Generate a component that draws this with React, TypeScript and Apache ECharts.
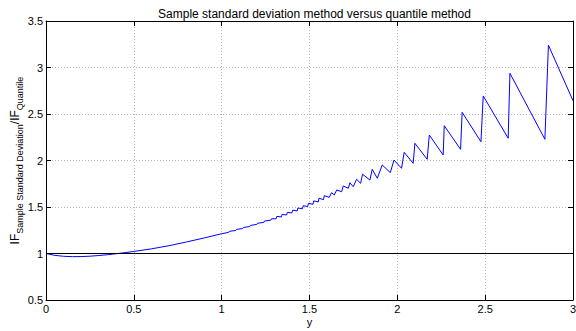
import React, { useEffect, useRef } from "react";
import * as echarts from "echarts";

const titleText = "Sample standard deviation method versus quantile method";
const xAxisName = "y";

const xTicks = { min: 0, max: 3, interval: 0.5 };
const yTicks = { min: 0.5, max: 3.5, interval: 0.5 };

// curve points (x, ratio)
const curveX = [
  0, 0.05, 0.1, 0.15, 0.2, 0.25, 0.3, 0.35, 0.4, 0.45, 0.5, 0.6, 0.7, 0.8, 0.9, 1.0,
  1.04, 1.044, 1.08, 1.084, 1.12, 1.124, 1.16, 1.164, 1.2, 1.204, 1.24, 1.244, 1.28, 1.284,
  1.31, 1.314, 1.34, 1.344, 1.37, 1.374, 1.4, 1.404, 1.43, 1.434, 1.46, 1.464, 1.49, 1.494,
  1.52, 1.524, 1.55, 1.554, 1.58, 1.584,
  1.612, 1.626, 1.641, 1.655, 1.683, 1.692, 1.721, 1.73, 1.749, 1.768, 1.791, 1.802,
  1.844, 1.857, 1.886, 1.914, 1.96, 1.981, 2.024, 2.039, 2.09, 2.1, 2.17, 2.182,
  2.261, 2.267, 2.36, 2.369, 2.476, 2.489, 2.631, 2.641, 2.84, 2.86, 3.0,
];
const curveY = [
  1.0, 0.98, 0.97, 0.966, 0.967, 0.971, 0.978, 0.987, 0.998, 1.009, 1.022, 1.05, 1.084, 1.124, 1.167, 1.213,
  1.227, 1.239, 1.247, 1.259, 1.268, 1.28, 1.29, 1.302, 1.313, 1.325, 1.335, 1.349, 1.358, 1.374,
  1.373, 1.399, 1.393, 1.42, 1.414, 1.442, 1.436, 1.466, 1.458, 1.489, 1.481, 1.514, 1.505, 1.54,
  1.529, 1.566, 1.554, 1.594, 1.579, 1.622,
  1.604, 1.654, 1.629, 1.683, 1.664, 1.726, 1.701, 1.761, 1.718, 1.798, 1.755, 1.852,
  1.79, 1.905, 1.809, 1.952, 1.87, 2.005, 1.916, 2.088, 1.97, 2.185, 2.013, 2.274,
  2.059, 2.374, 2.12, 2.518, 2.202, 2.694, 2.239, 2.938, 2.228, 3.24, 2.643,
];

const refLineX = [0, 3];
const refLineY = [1, 1];

const FONT = "'Liberation Sans', Arial, Helvetica, sans-serif";

export default function App() {
  const ref = useRef<HTMLDivElement>(null);

  useEffect(() => {
    if (!ref.current) return;
    const chart = echarts.init(ref.current, undefined, { renderer: "svg" });
    const curve = curveX.map((x, i) => [x, curveY[i]]);
    const refLine = refLineX.map((x, i) => [x, refLineY[i]]);

    const axisLine = { show: true, onZero: false, lineStyle: { color: "#000", width: 1 } };
    const axisTick = { show: true, inside: true, length: 5, lineStyle: { color: "#000", width: 1 } };
    const splitLine = { show: true, lineStyle: { color: "#b8b8b8", width: 1, type: [1, 2] } };
    const label = { color: "#000", fontSize: 11, fontFamily: FONT };

    chart.setOption({
      animation: false,
      backgroundColor: "#fff",
      title: {
        text: titleText,
        left: 309.5,
        top: 3,
        textAlign: "center",
        textStyle: { fontSize: 12, fontWeight: "normal", color: "#000", fontFamily: FONT },
      },
      grid: { left: 46, right: 3, top: 21, bottom: 31, containLabel: false, outerBoundsMode: "none" },
      xAxis: [
        {
          type: "value",
          position: "bottom",
          ...xTicks,
          axisLine,
          axisTick,
          splitLine,
          axisLabel: { ...label, margin: 3 },
          name: xAxisName,
          nameLocation: "middle",
          nameGap: 16,
          nameMoveOverlap: false,
          nameTextStyle: { ...label },
        },
        {
          type: "value",
          position: "top",
          ...xTicks,
          axisLine,
          axisTick,
          splitLine: { show: false },
          axisLabel: { show: false },
        },
      ],
      yAxis: [
        {
          type: "value",
          position: "left",
          ...yTicks,
          axisLine,
          axisTick,
          splitLine,
          axisLabel: { ...label, margin: 3 },
          name: "{a|IF}{b|Sample Standard Deviation}{a|/IF}{b|Quantile}",
          nameLocation: "middle",
          nameRotate: 90,
          nameGap: 15,
          nameMoveOverlap: false,
          nameTextStyle: {
            rich: {
              a: { fontSize: 12, fontFamily: FONT, color: "#000", lineHeight: 12, verticalAlign: "top" },
              b: { fontSize: 9, fontFamily: FONT, color: "#000", lineHeight: 22 },
            },
          },
        },
        {
          type: "value",
          position: "right",
          ...yTicks,
          axisLine,
          axisTick,
          splitLine: { show: false },
          axisLabel: { show: false },
        },
      ],
      series: [
        {
          type: "line",
          data: curve,
          xAxisIndex: 0,
          yAxisIndex: 0,
          showSymbol: false,
          symbol: "none",
          lineStyle: { color: "#0000ff", width: 1 },
          z: 2,
        },
        {
          type: "line",
          data: refLine,
          xAxisIndex: 0,
          yAxisIndex: 0,
          showSymbol: false,
          symbol: "none",
          lineStyle: { color: "#000", width: 1 },
          z: 3,
        },
      ],
    });
    return () => chart.dispose();
  }, []);

  return <div ref={ref} style={{ position: "fixed", left: 0, top: 0, width: 576, height: 331 }} />;
}
